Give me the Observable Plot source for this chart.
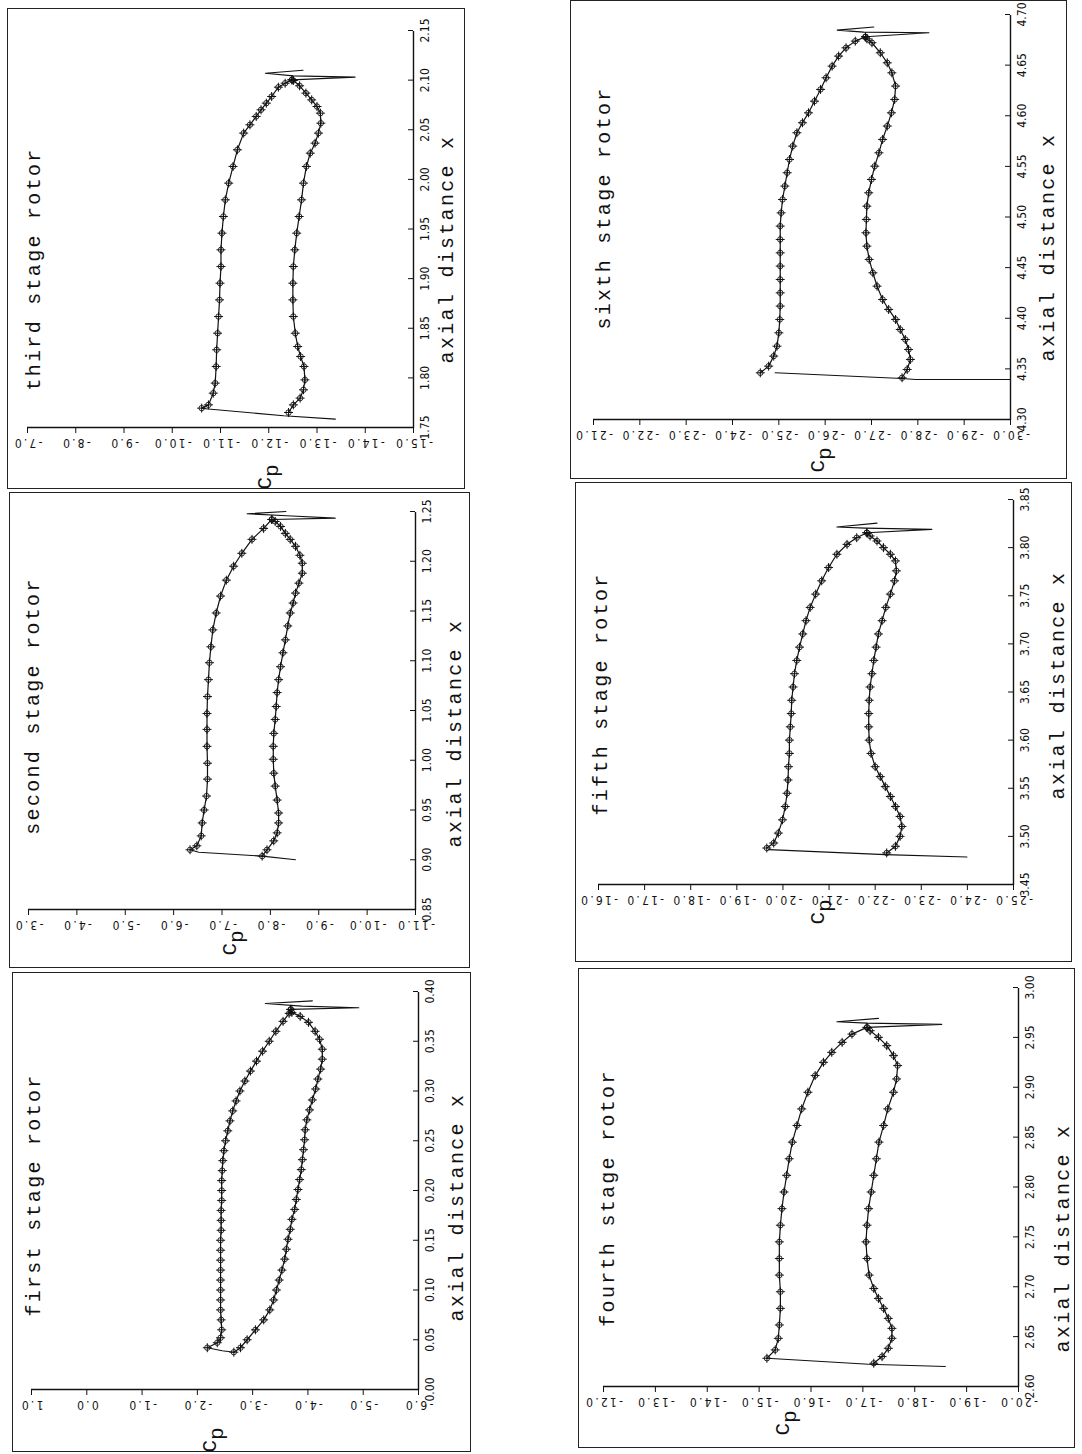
<!DOCTYPE html>
<html>
<head>
<meta charset="utf-8">
<script src="https://cdn.jsdelivr.net/npm/d3@7"></script>
<script src="https://cdn.jsdelivr.net/npm/@observablehq/plot@0.6"></script>
<style>
html, body { margin: 0; padding: 0; background: #fff; overflow: hidden; width: 1082px; height: 1454px; }
#page { position: absolute; left: 0; top: 0; width: 1454px; height: 1082px; transform-origin: 0 0; transform: translate(0px, 1454px) rotate(-90deg); background: #fff; }
.panel { position: absolute; outline: 1.5px solid #222; outline-offset: -1.5px; }
.panel svg { position: absolute; left: 0; top: 0; overflow: visible; }
.mono { position: absolute; font-family: "Liberation Mono", "DejaVu Sans Mono", monospace; font-size: 20px; letter-spacing: 2.3px; white-space: nowrap; line-height: 1; color: #111; transform: translate(-50%, 0); }
.cp { position: absolute; font-family: "Liberation Mono", "DejaVu Sans Mono", monospace; font-size: 21px; line-height: 1; color: #111; white-space: nowrap; transform: translate(-50%, -50%); }
.cp span { position: relative; top: 7px; }
g[aria-label="y-axis tick label"] text { letter-spacing: 2.2px; }
</style>
</head>
<body>
<div id="page"></div>
<script>
// ---------- data: [axial distance x, Cp] ----------
const stageTitles = ["first stage rotor", "second stage rotor", "third stage rotor",
                     "fourth stage rotor", "fifth stage rotor", "sixth stage rotor"];
const xAxisLabel = "axial distance x";

const axialRanges = [[0.00, 0.40], [0.85, 1.25], [1.75, 2.15], [2.60, 3.00], [3.45, 3.85], [4.30, 4.70]];
const cpRanges = [[-6, 1], [-11, -3], [-15, -7], [-20, -12], [-25, -16], [-30, -21]];

// stage 1
const s1Pressure = [[0.042,-2.18],[0.047,-2.36],[0.052,-2.42],[0.060,-2.44],[0.070,-2.43],[0.080,-2.42],[0.090,-2.42],[0.100,-2.42],[0.110,-2.42],[0.120,-2.42],[0.130,-2.42],[0.140,-2.42],[0.150,-2.42],[0.160,-2.43],[0.170,-2.43],[0.180,-2.43],[0.190,-2.44],[0.200,-2.44],[0.210,-2.44],[0.220,-2.45],[0.230,-2.46],[0.240,-2.48],[0.250,-2.51],[0.260,-2.55],[0.270,-2.59],[0.280,-2.64],[0.290,-2.70],[0.300,-2.77],[0.310,-2.86],[0.320,-2.96],[0.330,-3.07],[0.340,-3.18],[0.350,-3.30],[0.360,-3.42],[0.370,-3.55],[0.378,-3.66],[0.382,-3.69]];
const s1Suction = [[0.0375,-2.66],[0.042,-2.78],[0.050,-2.90],[0.060,-3.05],[0.070,-3.20],[0.080,-3.31],[0.090,-3.38],[0.100,-3.43],[0.110,-3.48],[0.120,-3.53],[0.131,-3.58],[0.141,-3.61],[0.151,-3.64],[0.161,-3.68],[0.171,-3.71],[0.181,-3.76],[0.191,-3.79],[0.201,-3.82],[0.211,-3.85],[0.221,-3.88],[0.231,-3.90],[0.241,-3.92],[0.251,-3.94],[0.261,-3.95],[0.271,-3.98],[0.281,-4.03],[0.291,-4.08],[0.302,-4.14],[0.312,-4.18],[0.322,-4.23],[0.332,-4.26],[0.342,-4.26],[0.352,-4.21],[0.360,-4.13],[0.369,-4.01],[0.375,-3.86],[0.379,-3.71],[0.382,-3.69]];
const s1Lead = [[0.042,-2.18],[0.039,-2.45],[0.0375,-2.66]];
const s1Wake = [[0.382,-3.69],[0.3836,-4.92],[0.3853,-3.89],[0.3879,-3.23],[0.3906,-4.08]];

// stage 2
const s2Pressure = [[0.910,-6.34],[0.914,-6.48],[0.924,-6.57],[0.937,-6.59],[0.950,-6.63],[0.964,-6.68],[0.981,-6.70],[0.997,-6.70],[1.014,-6.69],[1.031,-6.69],[1.047,-6.69],[1.064,-6.70],[1.081,-6.72],[1.098,-6.74],[1.114,-6.77],[1.131,-6.81],[1.148,-6.88],[1.165,-6.97],[1.181,-7.09],[1.195,-7.24],[1.208,-7.41],[1.222,-7.62],[1.233,-7.86],[1.242,-8.03]];
const s2Suction = [[0.9036,-7.83],[0.910,-7.93],[0.919,-8.07],[0.927,-8.14],[0.937,-8.17],[0.947,-8.17],[0.960,-8.14],[0.974,-8.10],[0.987,-8.07],[1.001,-8.06],[1.014,-8.06],[1.027,-8.07],[1.041,-8.10],[1.054,-8.12],[1.068,-8.14],[1.081,-8.17],[1.094,-8.21],[1.108,-8.26],[1.121,-8.31],[1.135,-8.36],[1.148,-8.41],[1.158,-8.47],[1.168,-8.52],[1.178,-8.59],[1.188,-8.66],[1.198,-8.66],[1.206,-8.61],[1.215,-8.52],[1.222,-8.41],[1.228,-8.31],[1.235,-8.21],[1.240,-8.10],[1.242,-8.03]];
const s2Lead = [[0.910,-6.34],[0.9076,-6.52],[0.9036,-7.83],[0.900,-8.52]];
const s2Wake = [[1.242,-8.03],[1.2433,-9.34],[1.2457,-8.34],[1.2477,-7.52],[1.2500,-8.32]];

// stage 3
const s3Pressure = [[1.7695,-10.61],[1.7728,-10.75],[1.7846,-10.85],[1.7947,-10.89],[1.8115,-10.91],[1.8283,-10.92],[1.8450,-10.94],[1.8618,-10.96],[1.8786,-10.98],[1.8954,-10.99],[1.9122,-11.01],[1.9290,-11.01],[1.9458,-11.03],[1.9626,-11.06],[1.9794,-11.10],[1.9962,-11.17],[2.0130,-11.26],[2.0298,-11.35],[2.0466,-11.48],[2.0550,-11.61],[2.0634,-11.74],[2.0701,-11.84],[2.0768,-11.95],[2.0835,-12.06],[2.0929,-12.20],[2.0969,-12.34],[2.1003,-12.48]];
const s3Suction = [[1.7651,-12.41],[1.7728,-12.51],[1.7796,-12.65],[1.7880,-12.72],[1.7980,-12.75],[1.8115,-12.73],[1.8215,-12.66],[1.8316,-12.60],[1.8450,-12.55],[1.8618,-12.51],[1.8786,-12.50],[1.8954,-12.50],[1.9122,-12.51],[1.9290,-12.54],[1.9458,-12.58],[1.9626,-12.63],[1.9794,-12.68],[1.9962,-12.72],[2.0130,-12.78],[2.0264,-12.86],[2.0365,-12.96],[2.0466,-13.03],[2.0566,-13.08],[2.0667,-13.07],[2.0734,-13.00],[2.0801,-12.89],[2.0869,-12.77],[2.0943,-12.64],[2.0996,-12.51],[2.1003,-12.48]];
const s3Lead = [[1.7691,-10.63],[1.7618,-12.31],[1.7584,-13.38]];
const s3Wake = [[2.1003,-12.48],[2.1030,-13.79],[2.1043,-12.51],[2.1070,-11.93],[2.1100,-12.71]];

// stage 4
const s4Pressure = [[2.6283,-15.15],[2.6367,-15.31],[2.6483,-15.37],[2.6617,-15.39],[2.6783,-15.41],[2.6950,-15.41],[2.7117,-15.39],[2.7283,-15.39],[2.7450,-15.39],[2.7617,-15.41],[2.7783,-15.44],[2.7950,-15.48],[2.8117,-15.53],[2.8283,-15.58],[2.8450,-15.64],[2.8617,-15.73],[2.8783,-15.82],[2.8950,-15.94],[2.9117,-16.08],[2.9250,-16.24],[2.9350,-16.40],[2.9450,-16.60],[2.9533,-16.79],[2.9600,-17.08]];
const s4Suction = [[2.6233,-17.21],[2.6300,-17.37],[2.6383,-17.49],[2.6483,-17.56],[2.6583,-17.56],[2.6683,-17.49],[2.6783,-17.40],[2.6883,-17.30],[2.6983,-17.21],[2.7117,-17.12],[2.7283,-17.08],[2.7450,-17.06],[2.7617,-17.08],[2.7783,-17.11],[2.7950,-17.16],[2.8117,-17.21],[2.8283,-17.26],[2.8450,-17.31],[2.8617,-17.40],[2.8783,-17.48],[2.8950,-17.59],[2.9083,-17.65],[2.9217,-17.67],[2.9317,-17.59],[2.9417,-17.46],[2.9500,-17.30],[2.9567,-17.14],[2.9600,-17.08]];
const s4Lead = [[2.6283,-15.15],[2.6223,-17.11],[2.6200,-18.59]];
const s4Wake = [[2.9600,-17.08],[2.9630,-18.52],[2.9643,-17.08],[2.9657,-16.50],[2.9690,-17.30]];

// stage 5
const s5Pressure = [[3.4879,-19.65],[3.4931,-19.80],[3.5034,-19.90],[3.5172,-19.99],[3.5310,-20.05],[3.5448,-20.09],[3.5586,-20.11],[3.5724,-20.12],[3.5862,-20.14],[3.6000,-20.14],[3.6138,-20.16],[3.6276,-20.18],[3.6414,-20.19],[3.6552,-20.22],[3.6690,-20.25],[3.6828,-20.30],[3.6966,-20.36],[3.7103,-20.43],[3.7241,-20.50],[3.7379,-20.59],[3.7517,-20.71],[3.7655,-20.84],[3.7793,-20.99],[3.7931,-21.17],[3.8034,-21.39],[3.8103,-21.60],[3.8155,-21.82]];
const s5Suction = [[3.4828,-22.25],[3.4897,-22.44],[3.5000,-22.54],[3.5103,-22.58],[3.5207,-22.54],[3.5310,-22.44],[3.5414,-22.33],[3.5517,-22.22],[3.5621,-22.11],[3.5724,-22.00],[3.5862,-21.91],[3.6000,-21.87],[3.6138,-21.86],[3.6276,-21.86],[3.6414,-21.87],[3.6552,-21.89],[3.6690,-21.93],[3.6828,-21.97],[3.6966,-22.02],[3.7103,-22.07],[3.7241,-22.15],[3.7379,-22.23],[3.7517,-22.33],[3.7655,-22.42],[3.7759,-22.46],[3.7862,-22.44],[3.7931,-22.33],[3.8000,-22.18],[3.8069,-22.04],[3.8121,-21.89],[3.8155,-21.82]];
const s5Lead = [[3.4862,-19.69],[3.4810,-22.22],[3.4786,-23.99]];
const s5Wake = [[3.8155,-21.82],[3.8190,-23.23],[3.8203,-21.78],[3.8214,-21.17],[3.8255,-22.04]];

// stage 6
const s6Pressure = [[4.3461,-24.60],[4.3527,-24.78],[4.3626,-24.89],[4.3724,-24.96],[4.3856,-25.00],[4.3988,-25.02],[4.4120,-25.03],[4.4251,-25.03],[4.4383,-25.03],[4.4515,-25.03],[4.4646,-25.03],[4.4778,-25.03],[4.4910,-25.03],[4.5041,-25.05],[4.5173,-25.08],[4.5305,-25.13],[4.5437,-25.18],[4.5568,-25.23],[4.5700,-25.30],[4.5832,-25.39],[4.5931,-25.51],[4.6029,-25.64],[4.6144,-25.77],[4.6260,-25.90],[4.6375,-26.02],[4.6490,-26.15],[4.6589,-26.29],[4.6671,-26.45],[4.6737,-26.65],[4.6780,-26.87]];
const s6Suction = [[4.3412,-27.66],[4.3494,-27.77],[4.3593,-27.84],[4.3691,-27.80],[4.3790,-27.73],[4.3889,-27.62],[4.3988,-27.52],[4.4087,-27.37],[4.4185,-27.24],[4.4317,-27.12],[4.4449,-27.03],[4.4581,-26.95],[4.4712,-26.90],[4.4844,-26.88],[4.4976,-26.89],[4.5107,-26.90],[4.5239,-26.94],[4.5371,-27.00],[4.5502,-27.07],[4.5634,-27.16],[4.5766,-27.24],[4.5898,-27.34],[4.6029,-27.43],[4.6161,-27.50],[4.6293,-27.52],[4.6424,-27.44],[4.6523,-27.34],[4.6622,-27.19],[4.6721,-27.01],[4.6760,-26.90],[4.6780,-26.87]];
const s6Lead = [[4.3461,-24.92],[4.3405,-27.66],[4.3395,-27.95],[4.3395,-30.00]];
const s6Wake = [[4.6780,-26.87],[4.6820,-28.24],[4.6826,-26.83],[4.6846,-26.26],[4.6876,-27.05]];

const pressureSides = [s1Pressure, s2Pressure, s3Pressure, s4Pressure, s5Pressure, s6Pressure];
const suctionSides = [s1Suction, s2Suction, s3Suction, s4Suction, s5Suction, s6Suction];
const leadingEdges = [s1Lead, s2Lead, s3Lead, s4Lead, s5Lead, s6Lead];
const wakes = [s1Wake, s2Wake, s3Wake, s4Wake, s5Wake, s6Wake];

// ---------- layout (page drawn upright, then turned a quarter to the left) ----------
const layout = [
  {box: [2, 12, 480, 459],   m: [19, 20, 53, 62], title: [257, 28], xlab: [245, 451], cp: [12, 198]},
  {box: [486, 9, 476, 461],  m: [19, 20, 55, 58], title: [262, 30], xlab: [235, 452], cp: [25, 221]},
  {box: [965, 7, 481, 458],  m: [20, 23, 52, 61], title: [220, 33], xlab: [240, 446], cp: [12, 258]},
  {box: [6, 578, 480, 497],  m: [25, 20, 57, 61], title: [250, 36], xlab: [210, 491], cp: [25, 205]},
  {box: [492, 575, 480, 497],m: [23, 18, 59, 77], title: [268, 32], xlab: [277, 489], cp: [50, 243]},
  {box: [975, 570, 479, 497],m: [23, 15, 57, 59], title: [271, 40], xlab: [232, 484], cp: [19, 248]}
];

const page = document.getElementById("page");
const ink = "#111";
const px = d => d[0], py = d => d[1];

stageTitles.forEach((title, i) => {
  const L = layout[i];
  const [left, top, width, height] = L.box;
  const [mt, mr, mb, ml] = L.m;
  const xr = axialRanges[i], yr = cpRanges[i];
  const xTicks = d3.range(0, 9).map(k => +(xr[0] + k * 0.05).toFixed(2));
  const yTicks = d3.range(yr[0], yr[1] + 0.5, 1);

  const panel = document.createElement("div");
  panel.className = "panel";
  Object.assign(panel.style, {left: left + "px", top: top + "px", width: width + "px", height: height + "px"});

  const surf = [...pressureSides[i], ...suctionSides[i]];
  const chart = Plot.plot({
    width, height,
    marginTop: mt, marginRight: mr, marginBottom: mb, marginLeft: ml,
    style: {fontFamily: "'Liberation Sans Narrow','DejaVu Sans Condensed','Liberation Sans',sans-serif", fontSize: "12px", color: ink, background: "transparent"},
    x: {domain: xr, axis: null},
    y: {domain: yr, axis: null},
    marks: [
      Plot.axisX({ticks: xTicks, tickFormat: d => d.toFixed(2), tickSize: -5, tickPadding: 12, label: null, stroke: ink}),
      Plot.axisY({ticks: yTicks, tickFormat: d => d.toFixed(1), tickSize: 5, tickPadding: 6, tickRotate: -90, label: null, stroke: ink}),
      Plot.ruleX([xr[0]], {stroke: ink, strokeWidth: 1.4}),
      Plot.ruleY([yr[0]], {stroke: ink, strokeWidth: 1.4}),
      Plot.line(leadingEdges[i], {x: px, y: py, stroke: ink, strokeWidth: 1.1}),
      Plot.line(wakes[i], {x: px, y: py, stroke: ink, strokeWidth: 1.1}),
      Plot.line(pressureSides[i], {x: px, y: py, stroke: ink, strokeWidth: 1.2}),
      Plot.line(suctionSides[i], {x: px, y: py, stroke: ink, strokeWidth: 1.2}),
      Plot.dot(surf, {x: px, y: py, symbol: "circle", r: 2.7, stroke: ink, strokeWidth: 0.9, fill: "none"}),
      Plot.dot(surf, {x: px, y: py, symbol: "plus", r: 3, stroke: ink, strokeWidth: 1})
    ]
  });
  panel.appendChild(chart);

  const t = document.createElement("div");
  t.className = "mono";
  t.textContent = title;
  t.style.left = L.title[0] + "px";
  t.style.top = (L.title[1] - 15) + "px";
  panel.appendChild(t);

  const xl = document.createElement("div");
  xl.className = "mono";
  xl.textContent = xAxisLabel;
  xl.style.left = L.xlab[0] + "px";
  xl.style.top = (L.xlab[1] - 15) + "px";
  panel.appendChild(xl);

  const cp = document.createElement("div");
  cp.className = "cp";
  cp.innerHTML = "C<span>p</span>";
  cp.style.left = L.cp[0] + "px";
  cp.style.top = L.cp[1] + "px";
  panel.appendChild(cp);

  page.appendChild(panel);
});
</script>
</body>
</html>
